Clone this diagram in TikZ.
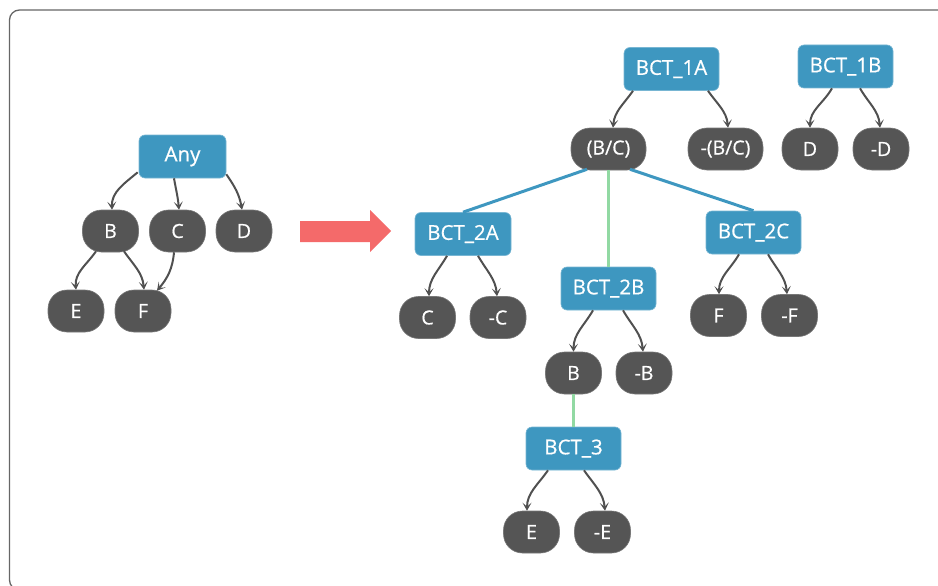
\documentclass[tikz,border=0pt]{standalone}
\usepackage{fontspec}
\setmainfont{Open Sans}
\newfontfamily\nodefont{Open Sans}[FakeBold=0.6]
\usetikzlibrary{arrows.meta}
\definecolor{bluebox}{HTML}{3E97C0}
\definecolor{darkbox}{HTML}{555555}
\definecolor{arrline}{HTML}{505050}
\definecolor{greenline}{HTML}{92D9A3}
\definecolor{bigred}{HTML}{F46A6A}
\definecolor{framecol}{HTML}{666666}
\tikzset{
  bct/.style={fill=bluebox, draw=bluebox!70!white, line width=0.6pt, rounded corners=6pt, text=white,
    minimum width=95pt, minimum height=43pt, inner sep=0pt, font=\nodefont\fontsize{20.5}{22}\selectfont},
  lit/.style={fill=darkbox, draw=darkbox!80!white, line width=0.6pt, rounded corners=19pt, text=white,
    minimum width=56pt, minimum height=42pt, inner sep=0pt, font=\nodefont\fontsize{19.5}{21}\selectfont},
  arr/.style={draw=arrline, line width=2pt, -{Stealth[length=8pt,width=9pt,inset=4pt]}},
  blueline/.style={draw=bluebox, line width=3pt},
  greenline/.style={draw=greenline, line width=3pt},
}
\begin{document}
\begin{tikzpicture}[x=1pt,y=-1pt]
\useasboundingbox (0,0) rectangle (938,586);
\draw[framecol, line width=1.3pt, rounded corners=10pt] (9.5,10) rectangle (955,590);

% left tree
\node[bct, minimum width=87pt] (any) at (182.5,156.5) {Any};
\node[lit] (b0) at (110.5,231) {B};
\node[lit] (c0) at (177.5,231) {C};
\node[lit] (d0) at (244,231) {D};
\node[lit] (e0) at (76,311) {E};
\node[lit] (f0) at (143,311) {F};

\draw[arr] ([xshift=-1pt,yshift=6pt]any.south west) to[out=-140,in=92] ([xshift=1.5pt]b0.north);
\draw[arr] ([xshift=-8.5pt]any.south) to[out=-80,in=95] ([xshift=1.5pt]c0.north);
\draw[arr] ([xshift=0pt,yshift=4pt]any.south east) to[out=-55,in=100] ([xshift=-2pt]d0.north);
\draw[arr] ([xshift=-14.5pt,yshift=1pt]b0.south) to[out=-125,in=95] (e0.north);
\draw[arr] ([xshift=13.5pt,yshift=1pt]b0.south) to[out=-55,in=95] ([xshift=1pt]f0.north);
\draw[arr] ([xshift=-3.5pt]c0.south) to[out=-95,in=50] ([xshift=14pt,yshift=-1pt]f0.north);

% big arrow
\fill[bigred] (300,221) -- (370,221) -- (370,210) -- (391,231) -- (370,252) -- (370,242) -- (300,242) -- cycle;

% right trees
\node[bct] (b1a) at (671.5,69) {BCT\_1A};
\node[bct] (b1b) at (845.5,66.5) {BCT\_1B};
\node[lit, minimum width=75pt] (bc) at (608.5,149) {(B/C)};
\node[lit, minimum width=75pt] (nbc) at (725.5,149) {-(B/C)};
\node[lit] (d1) at (810,149) {D};
\node[lit] (nd1) at (881,149) {-D};

\node[bct, minimum width=96pt] (b2a) at (463,234) {BCT\_2A};
\node[bct] (b2b) at (608.5,288.5) {BCT\_2B};
\node[bct] (b2c) at (753.5,232.5) {BCT\_2C};
\node[lit] (c2) at (427.5,317.5) {C};
\node[lit] (nc2) at (498,317.5) {-C};
\node[lit] (f2) at (718.5,315.5) {F};
\node[lit] (nf2) at (789.5,315.5) {-F};
\node[lit] (b2) at (573.5,373) {B};
\node[lit] (nb2) at (644,373) {-B};

\node[bct] (b3) at (573.5,448.5) {BCT\_3};
\node[lit] (e3) at (531.5,532) {E};
\node[lit] (ne3) at (602.5,532) {-E};

% blue and green links
\draw[blueline] ([xshift=-21.5pt,yshift=1pt]bc.south) -- (b2a.north);
\draw[blueline] ([xshift=21.5pt,yshift=1pt]bc.south) -- (b2c.north);
\draw[greenline] (bc.south) -- (b2b.north);
\draw[greenline] (b2.south) -- (b3.north);

% arrows
\draw[arr] ([xshift=-38.5pt]b1a.south) to[out=-125,in=85] ([xshift=4.5pt]bc.north);
\draw[arr] ([xshift=36.5pt]b1a.south) to[out=-55,in=95] ([xshift=2.5pt]nbc.north);
\draw[arr] ([xshift=-13.5pt]b1b.south) to[out=-120,in=90] (d1.north);
\draw[arr] ([xshift=14.5pt]b1b.south) to[out=-60,in=95] ([xshift=-1pt]nd1.north);
\draw[arr] ([xshift=-16pt]b2a.south) to[out=-120,in=90] ([xshift=1.5pt]c2.north);
\draw[arr] ([xshift=15pt]b2a.south) to[out=-60,in=95] ([xshift=-1pt]nc2.north);
\draw[arr] ([xshift=-14.5pt]b2c.south) to[out=-120,in=90] ([xshift=0.5pt]f2.north);
\draw[arr] ([xshift=14.5pt]b2c.south) to[out=-60,in=95] ([xshift=-2.5pt]nf2.north);
\draw[arr] ([xshift=-15.5pt]b2b.south) to[out=-120,in=90] (b2.north);
\draw[arr] ([xshift=14.5pt]b2b.south) to[out=-60,in=95] ([xshift=-1pt]nb2.north);
\draw[arr] ([xshift=-25.5pt]b3.south) to[out=-125,in=90] ([xshift=-4.5pt]e3.north);
\draw[arr] ([xshift=10.5pt]b3.south) to[out=-55,in=95] ([xshift=2.5pt]ne3.north);
\end{tikzpicture}
\end{document}
